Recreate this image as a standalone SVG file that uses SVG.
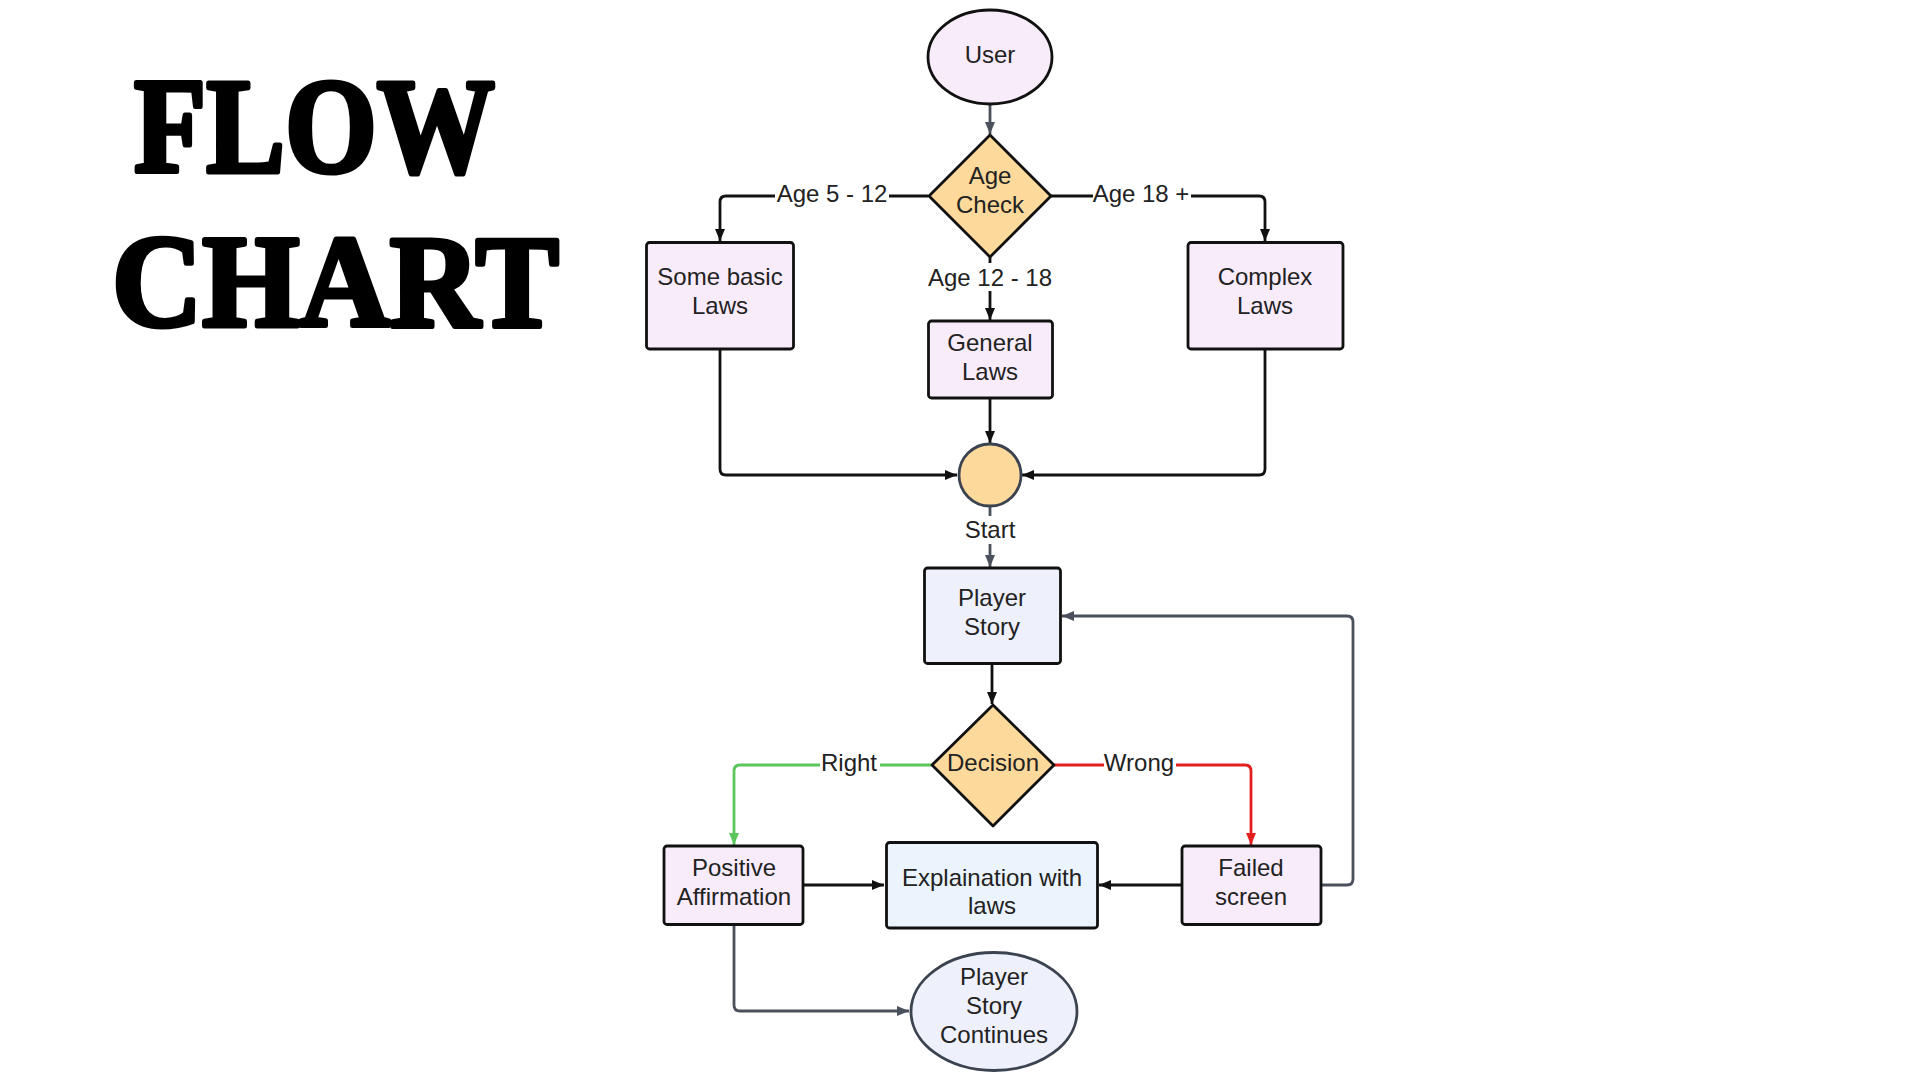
<svg xmlns="http://www.w3.org/2000/svg" width="1920" height="1080" viewBox="0 0 1920 1080">
<style>
.node{stroke:#111;stroke-width:2.8}
.pink{fill:#f8ecfb}
.lav{fill:#eef0fc}
.blue{fill:#ebf3fd}
.orange{fill:#fdd99b}
.t{font-family:"Liberation Sans",Arial,sans-serif;font-size:24px;fill:#222;text-anchor:middle}
.title{font-family:"Liberation Serif","DejaVu Serif",serif;font-weight:bold;fill:#000;stroke:#000;stroke-width:5;stroke-linejoin:round}
.c{fill:none;stroke-width:2.8;stroke-linejoin:round}
.k{stroke:#111}
.g{stroke:#4a505c}
.gr{stroke:#5cc65c}
.r{stroke:#e3201f}
.lbl{fill:#fff}
</style>
<defs>
<marker id="ak" viewBox="0 0 12 10" refX="12" refY="5" markerWidth="12" markerHeight="10" markerUnits="userSpaceOnUse" orient="auto"><path d="M0,0 L12,5 L0,10 z" fill="#111"/></marker>
<marker id="ag" viewBox="0 0 12 10" refX="12" refY="5" markerWidth="12" markerHeight="10" markerUnits="userSpaceOnUse" orient="auto"><path d="M0,0 L12,5 L0,10 z" fill="#4a505c"/></marker>
<marker id="agr" viewBox="0 0 12 10" refX="12" refY="5" markerWidth="12" markerHeight="10" markerUnits="userSpaceOnUse" orient="auto"><path d="M0,0 L12,5 L0,10 z" fill="#5cc65c"/></marker>
<marker id="ar" viewBox="0 0 12 10" refX="12" refY="5" markerWidth="12" markerHeight="10" markerUnits="userSpaceOnUse" orient="auto"><path d="M0,0 L12,5 L0,10 z" fill="#e3201f"/></marker>
</defs>
<rect width="1920" height="1080" fill="#fff"/>
<g id="title">
<text class="title" x="134" y="172" font-size="136" textLength="361" lengthAdjust="spacingAndGlyphs">FLOW</text>
<text class="title" x="112" y="326" font-size="132" textLength="447" lengthAdjust="spacingAndGlyphs">CHART</text>
</g>
<g id="connectors">
<path class="c g" d="M990,104 V134" marker-end="url(#ag)"/>
<path class="c k" d="M928,196 H726 Q720,196 720,202 V241" marker-end="url(#ak)"/>
<rect class="lbl" x="775" y="182" width="114" height="28"/>
<text class="t" x="832" y="202">Age 5 - 12</text>
<path class="c k" d="M1051,196 H1259 Q1265,196 1265,202 V241" marker-end="url(#ak)"/>
<rect class="lbl" x="1093" y="182" width="98" height="28"/>
<text class="t" x="1141" y="202">Age 18 +</text>
<path class="c k" d="M990,257 V320" marker-end="url(#ak)"/>
<rect class="lbl" x="925" y="263" width="130" height="28"/>
<text class="t" x="990" y="286">Age 12 - 18</text>
<path class="c k" d="M990,398 V443" marker-end="url(#ak)"/>
<path class="c k" d="M720,349 V469 Q720,475 726,475 H957" marker-end="url(#ak)"/>
<path class="c k" d="M1265,349 V469 Q1265,475 1259,475 H1022" marker-end="url(#ak)"/>
<path class="c g" d="M990,506 V567" marker-end="url(#ag)"/>
<rect class="lbl" x="960" y="516" width="60" height="28"/>
<text class="t" x="990" y="538">Start</text>
<path class="c k" d="M992,664 V704" marker-end="url(#ak)"/>
<path class="c gr" d="M932,765 H740 Q734,765 734,771 V845" marker-end="url(#agr)"/>
<rect class="lbl" x="820" y="751" width="60" height="28"/>
<text class="t" x="849" y="771">Right</text>
<path class="c r" d="M1054,765 H1245 Q1251,765 1251,771 V845" marker-end="url(#ar)"/>
<rect class="lbl" x="1104" y="751" width="72" height="28"/>
<text class="t" x="1139" y="771">Wrong</text>
<path class="c k" d="M803,885 H884" marker-end="url(#ak)"/>
<path class="c k" d="M1182,885 H1099" marker-end="url(#ak)"/>
<path class="c g" d="M1321,885 H1347 Q1353,885 1353,879 V622 Q1353,616 1347,616 H1062" marker-end="url(#ag)"/>
<path class="c g" d="M734,925 V1005 Q734,1011 740,1011 H909" marker-end="url(#ag)"/>
</g>
<g id="user">
<ellipse class="node pink" cx="990" cy="57" rx="62" ry="47"/>
<text class="t" x="990" y="63">User</text>
</g>
<g id="age-check">
<path class="node orange" d="M990,135 L1051,196 L990,257 L929,196 Z" stroke-linejoin="round"/>
<text class="t" x="990" y="184">Age</text>
<text class="t" x="990" y="213">Check</text>
</g>
<g id="some-basic-laws">
<rect class="node pink" x="646.5" y="242.5" width="147" height="106.5" rx="3"/>
<text class="t" x="720" y="285">Some basic</text>
<text class="t" x="720" y="314">Laws</text>
</g>
<g id="complex-laws">
<rect class="node pink" x="1188" y="242.5" width="155" height="106.5" rx="3"/>
<text class="t" x="1265" y="285">Complex</text>
<text class="t" x="1265" y="314">Laws</text>
</g>
<g id="general-laws">
<rect class="node pink" x="928.5" y="321" width="124" height="77" rx="3"/>
<text class="t" x="990" y="351">General</text>
<text class="t" x="990" y="380">Laws</text>
</g>
<g id="start">
<circle class="orange" cx="990" cy="475" r="31" stroke="#3c4350" stroke-width="2.8"/>
</g>
<g id="player-story">
<rect class="node lav" x="924.5" y="568" width="136" height="95.5" rx="3"/>
<text class="t" x="992" y="606">Player</text>
<text class="t" x="992" y="635">Story</text>
</g>
<g id="decision">
<path class="node orange" d="M993,705 L1054,765 L993,826 L932,765 Z" stroke-linejoin="round"/>
<text class="t" x="993" y="771">Decision</text>
</g>
<g id="positive-affirmation">
<rect class="node pink" x="664" y="846" width="139" height="78.5" rx="3"/>
<text class="t" x="734" y="876">Positive</text>
<text class="t" x="734" y="905">Affirmation</text>
</g>
<g id="explanation">
<rect class="node blue" x="886.5" y="842.5" width="211" height="85.5" rx="3"/>
<text class="t" x="992" y="886">Explaination with</text>
<text class="t" x="992" y="914">laws</text>
</g>
<g id="failed-screen">
<rect class="node pink" x="1182" y="846" width="139" height="78.5" rx="3"/>
<text class="t" x="1251" y="876">Failed</text>
<text class="t" x="1251" y="905">screen</text>
</g>
<g id="player-story-continues">
<ellipse class="lav" cx="994" cy="1011.5" rx="83" ry="59" stroke="#3c4350" stroke-width="2.8"/>
<text class="t" x="994" y="985">Player</text>
<text class="t" x="994" y="1014">Story</text>
<text class="t" x="994" y="1043">Continues</text>
</g>
</svg>
